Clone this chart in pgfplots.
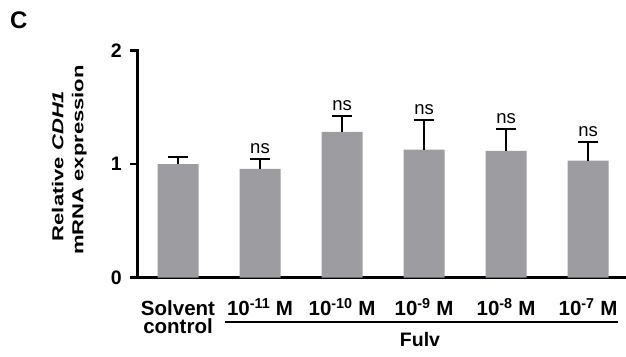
\documentclass[border=0pt]{standalone}
\usepackage{fontspec}
\setmainfont{Liberation Sans}
\usepackage{graphicx}
\usepackage{pgfplots}
\pgfplotsset{compat=1.18}
\usepackage{pgfplotstable}
\definecolor{bargray}{RGB}{157,157,161}
\pgfplotstableread{
x y err
0 1.000 0.060
1 0.958 0.088
2 1.284 0.143
3 1.128 0.259
4 1.116 0.197
5 1.031 0.167
}\datatable
\pgfplotstableread{
x top
1 1.046
2 1.427
3 1.387
4 1.313
5 1.198
}\nstable
\begin{document}
\begin{tikzpicture}[x=1bp,y=1bp]
\path[use as bounding box] (0,0) rectangle (626,356);
\begin{axis}[
  at={(137bp,78.3bp)}, anchor=south west,
  scale only axis, width=489bp, height=227.2bp,
  xmin=-0.5, xmax=5.463, ymin=0, ymax=2,
  axis lines=left,
  axis line style={-, line width=3bp, line cap=rect},
  tick align=outside,
  major tick length=7bp,
  ytick={0,1,2},
  ytick style={line width=2.5bp, black},
  xtick={0,1,2,3,4,5},
  xtick style={draw=none},
  xticklabels={Solvent, 10\textsuperscript{-11} M, 10\textsuperscript{-10} M, 10\textsuperscript{-9} M, 10\textsuperscript{-8} M, 10\textsuperscript{-7} M},
  xticklabel style={anchor=base, inner sep=0pt, font=\fontsize{20.5bp}{23bp}\selectfont\bfseries, yshift=-31bp},
  yticklabel style={inner sep=0pt, xshift=-8bp, font=\fontsize{19.5bp}{23bp}\selectfont\bfseries},
  /pgf/number format/assume math mode=true,
  clip=false,
]
\addplot[ybar, bar width=41bp, fill=bargray, draw=none,
  error bars/.cd, y dir=plus, y explicit,
  error bar style={line width=2bp, black},
  error mark options={rotate=90, mark size=10bp, line width=2bp, black}]
  table[x=x, y=y, y error plus=err] {\datatable};
\addplot[draw=none, mark=none, nodes near coords={ns},
  nodes near coords style={anchor=base, inner sep=0pt, yshift=5.5bp, font=\fontsize{18.5bp}{22bp}\selectfont}]
  table[x=x, y=top] {\nstable};
\end{axis}
\node[anchor=base, inner sep=0pt, font=\fontsize{20.5bp}{23bp}\selectfont\bfseries] at (178,22.5) {control};
\draw[line width=2.5bp] (225,34) -- (618,34);
\node[anchor=base, inner sep=0pt, font=\fontsize{19.5bp}{23bp}\selectfont\bfseries] at (420,9.3) {Fulv};
\node[anchor=base west, inner sep=0pt, font=\fontsize{24bp}{28bp}\selectfont\bfseries] at (10,328) {C};
\node[rotate=90, anchor=base, inner sep=0pt, font=\fontsize{22bp}{26bp}\selectfont\bfseries] at (63.3,190) {\scalebox{1}[0.72]{Relative \textit{CDH1}}};
\node[rotate=90, anchor=base, inner sep=0pt, font=\fontsize{22bp}{26bp}\selectfont\bfseries] at (83.3,196) {\scalebox{1}[0.72]{mRNA expression}};
\end{tikzpicture}
\end{document}
